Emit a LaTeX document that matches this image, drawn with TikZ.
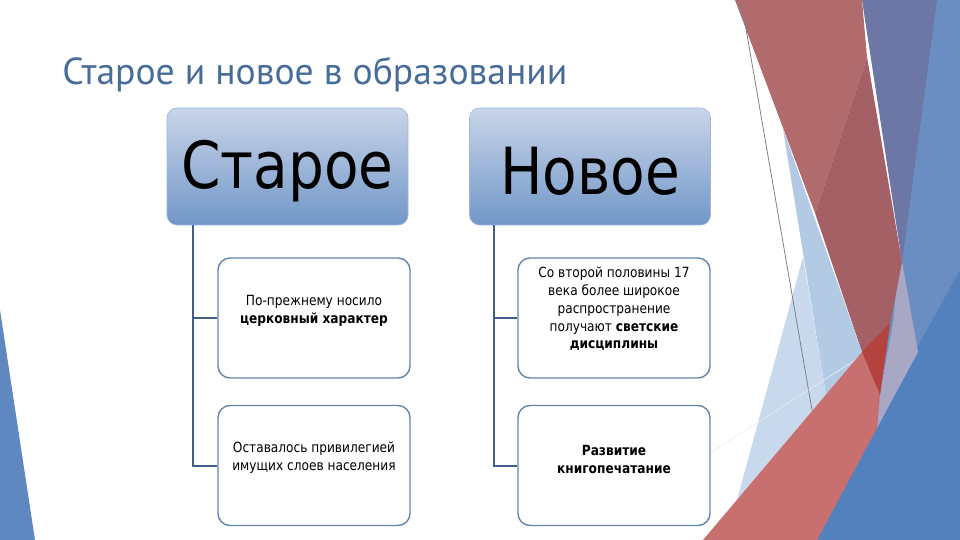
\documentclass[tikz,border=0pt]{standalone}
\usepackage{fontspec}
\setmainfont{DejaVu Sans}[FakeStretch=0.87]
\newfontfamily\titlefont{PT Sans}
\definecolor{ntitle}{HTML}{466C99}
\definecolor{nhtop}{HTML}{C9D5E9}
\definecolor{nhbot}{HTML}{7197C8}
\definecolor{nedge}{HTML}{6683AA}
\definecolor{nconn}{HTML}{3F5F88}
\definecolor{nblue}{HTML}{6A8EC2}
\definecolor{ndblue}{HTML}{5381BD}
\definecolor{npurple}{HTML}{6C77A5}
\definecolor{nlgray}{HTML}{A9A8C4}
\definecolor{nlred}{HTML}{B26B6C}
\definecolor{ndred}{HTML}{A56066}
\definecolor{ncoral}{HTML}{C87070}
\definecolor{ndeep}{HTML}{B4423F}
\definecolor{nlblue}{HTML}{C8D9ED}
\definecolor{nmblue}{HTML}{B3CAE5}
\definecolor{nleft}{HTML}{5F88C0}

\begin{document}
\begin{tikzpicture}[x=0.5pt,y=-0.5pt,
  head/.style={rounded corners=5pt, minimum width=120.5pt, minimum height=58.5pt, inner sep=0pt,
    top color=nhtop, bottom color=nhbot, draw=nhtop!50!nhbot, line width=0.3pt,
    font=\fontsize{32.5}{36}\selectfont},
  leaf/.style={rounded corners=6pt, draw=nedge, line width=0.7pt, fill=white,
    minimum width=96pt, minimum height=60pt},
  leaftext/.style={align=center, inner sep=0pt, font=\fontsize{7}{8.9}\selectfont},
  conn/.style={draw=nconn, line width=1pt}]
 \useasboundingbox (0,0) rectangle (960,540);
 \fill[nleft] (0,310) -- (35,540) -- (0,540) -- cycle;
 \fill[nblue] (925,0) -- (960,0) -- (960,540) -- (815,540) -- (878,410) -- (900,250) -- cycle;
 \fill[ndblue] (960,270) -- (960,540) -- (811,540) -- (877,420) -- cycle;
 \fill[npurple] (862,0) -- (937,0) -- (902,262) -- cycle;
 \fill[nlgray] (900,250) -- (918,352) -- (877,428) -- (880,393) -- (893,323) -- cycle;
 \fill[nlred] (735,0) -- (862,0) -- (867,57) -- (815,213) -- cycle;
 \fill[ndred] (867,57) -- (902,262) -- (890,325) -- (880,395) -- (862,352) -- (815,213) -- cycle;
 \fill[nmblue] (783,129) -- (826,395) -- (862,352) -- cycle;
 \fill[nlblue] (803,257) -- (826,395) -- (737,500) -- cycle;
 \draw[gray, line width=0.4pt] (741,0) -- (812,410);
 \draw[white!85!gray, line width=0.3pt] (710,453) -- (860,357);
 \fill[ncoral] (703,540) -- (862,352) -- (880,395) -- (877,428) -- (817,540) -- cycle;
 \fill[ndeep] (862,352) -- (890,323) -- (880,395) -- cycle;

 \node[text=ntitle, anchor=base west, inner sep=0pt, font=\titlefont\fontsize{18.8}{20}\selectfont] (title) at (62,85) {Старое и новое в образовании};

 \node[head] (old) at (287.5,166.5) {\raisebox{-2.5pt}[\height][\depth]{Старое}};
 \node[head] (new) at (590,166.5) {\raisebox{-2.5pt}[\height][\depth]{Новое}};

 \node[leaf] (o1) at (314,318) {};
 \node[leaf] (o2) at (314,465.5) {};
 \node[leaf] (n1) at (614,318) {};
 \node[leaf] (n2) at (614,465.5) {};
 \node[leaftext] (o1t) at ([yshift=3.5pt]o1) {По-прежнему носило\\\textbf{церковный характер}};
 \node[leaftext] (o2t) at ([yshift=4pt]o2) {Оставалось привилегией\\имущих слоев населения};
 \node[leaftext] (n1t) at ([yshift=4.5pt]n1) {Со второй половины 17\\века более широкое\\распространение\\получают \textbf{светские}\\\textbf{дисциплины}};
 \node[leaftext] (n2t) at ([yshift=3pt]n2) {\textbf{Развитие}\\\textbf{книгопечатание}};

 \draw[conn] ([xshift=13pt]old.south west) |- (o1.west);
 \draw[conn] ([xshift=13pt]old.south west) |- (o2.west);
 \draw[conn] ([xshift=12.5pt]new.south west) |- (n1.west);
 \draw[conn] ([xshift=12.5pt]new.south west) |- (n2.west);
\end{tikzpicture}
\end{document}
